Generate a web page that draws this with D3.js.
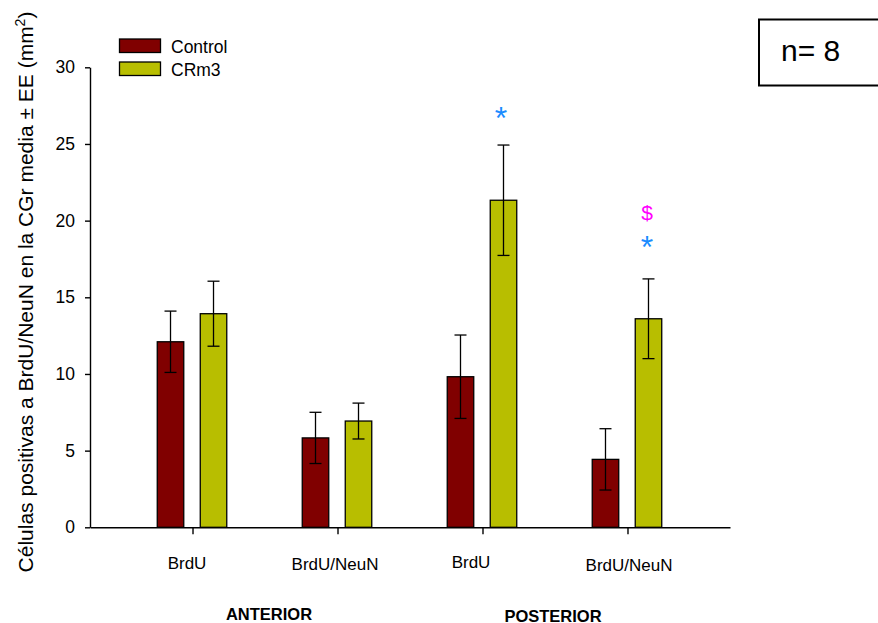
<!DOCTYPE html>
<html>
<head>
<meta charset="utf-8">
<script src="https://cdn.jsdelivr.net/npm/d3@7/dist/d3.min.js"></script>
<style>
  html, body { margin: 0; padding: 0; background: #fff; }
  svg { display: block; font-family: "Liberation Sans", Arial, sans-serif; }
</style>
</head>
<body>
<svg id="chart" width="878" height="623"></svg>
<script>
// ---- data ----
const categories = ["BrdU", "BrdU/NeuN", "BrdU", "BrdU/NeuN"];
const regions = ["ANTERIOR", "POSTERIOR"];
const seriesNames = ["Control", "CRm3"];
const controlMean = [12.1, 5.83, 9.82, 4.43];
const controlSE   = [2.0, 1.67, 2.72, 2.0];
const crm3Mean    = [13.93, 6.93, 21.33, 13.6];
const crm3SE      = [2.12, 1.17, 3.6, 2.6];
const yTicks = [0, 5, 10, 15, 20, 25, 30];
// significance marks: [category index, series index, symbol, kind]
const marks = [[2, 1, "*", "star"], [3, 1, "$", "dollar"], [3, 1, "*", "star"]];
const nLabel = "n= 8";

// ---- layout / style ----
const colors = ["#800000", "#b8be00"];
const barOffset = [-22, 21];
const barW = 26.5;
const labelDx = [-6, -3, -12, 1];
const labelBase = [569, 570, 568, 571.5];
const regionDx = [4, -2];
const regionBase = [619.5, 621.5];
const markPos = { "star": [[501, 129], [647, 258]], "dollar": [[647, 219.5]] };

const svg = d3.select("#chart");
const x = d3.scalePoint().domain(d3.range(categories.length)).range([90, 730]).padding(0.707);
const y = d3.scaleLinear().domain([0, 30]).range([527.3, 67.3]);

// bars
const series = [
  { name: seriesNames[0], mean: controlMean, se: controlSE },
  { name: seriesNames[1], mean: crm3Mean, se: crm3SE }
];
series.forEach((s, si) => {
  const g = svg.append("g");
  const data = s.mean.map((m, i) => ({ i, m, e: s.se[i] }));
  g.selectAll("rect").data(data).join("rect")
    .attr("x", d => x(d.i) + barOffset[si] - barW / 2)
    .attr("y", d => y(d.m))
    .attr("width", barW)
    .attr("height", d => y(0) - y(d.m))
    .attr("fill", colors[si])
    .attr("stroke", "#000")
    .attr("stroke-width", 1.3);
  const eb = g.selectAll("g.err").data(data).join("g").attr("class", "err")
    .attr("stroke", "#000").attr("stroke-width", 1.3);
  eb.append("line")
    .attr("x1", d => x(d.i) + barOffset[si]).attr("x2", d => x(d.i) + barOffset[si])
    .attr("y1", d => y(d.m + d.e)).attr("y2", d => y(d.m - d.e));
  [1, -1].forEach(sign => {
    eb.append("line")
      .attr("x1", d => x(d.i) + barOffset[si] - 6).attr("x2", d => x(d.i) + barOffset[si] + 6)
      .attr("y1", d => y(d.m + sign * d.e)).attr("y2", d => y(d.m + sign * d.e));
  });
});

// axes
const yAxis = svg.append("g").attr("transform", "translate(90,0)")
  .call(d3.axisLeft(y).tickValues(yTicks).tickSize(5).tickPadding(10).tickSizeOuter(0));
yAxis.selectAll("text").attr("font-size", 17.5).attr("fill", "#000")
  .attr("font-family", "'Liberation Sans', Arial, sans-serif");
yAxis.selectAll("line, path").attr("stroke", "#000").attr("stroke-width", 1.4);

const xAxis = svg.append("g").attr("transform", `translate(0,${y(0)})`)
  .call(d3.axisBottom(x).tickSize(7).tickSizeOuter(0).tickFormat(i => categories[i]));
xAxis.selectAll("line, path").attr("stroke", "#000").attr("stroke-width", 1.4);
xAxis.selectAll("text")
  .attr("font-size", 17).attr("fill", "#000")
  .attr("font-family", "'Liberation Sans', Arial, sans-serif")
  .attr("dy", 0)
  .attr("x", (d) => labelDx[d])
  .attr("y", (d) => labelBase[d] - y(0));

// region labels
regions.forEach((r, ri) => {
  const cx = (x(ri * 2) + x(ri * 2 + 1)) / 2 + regionDx[ri];
  svg.append("text").attr("x", cx).attr("y", regionBase[ri])
    .attr("text-anchor", "middle").attr("font-weight", "bold").attr("font-size", 16.5)
    .text(r);
});

// y-axis title
const yt = svg.append("text")
  .attr("transform", "translate(33,292) rotate(-90)")
  .attr("text-anchor", "middle").attr("font-size", 21).attr("fill", "#000");
yt.append("tspan").text("Células positivas a BrdU/NeuN en la CGr media ± EE (mm");
yt.append("tspan").attr("font-size", 14).attr("dy", -8).text("2");
yt.append("tspan").attr("dy", 8).text(")");

// legend
series.forEach((s, si) => {
  const ly = [39, 62][si];
  svg.append("rect").attr("x", 119.5).attr("y", ly).attr("width", 41).attr("height", 13.5)
    .attr("fill", colors[si]).attr("stroke", "#000").attr("stroke-width", 1.3);
  svg.append("text").attr("x", 171).attr("y", ly + 13.5).attr("font-size", 17.5).text(s.name);
});

// significance marks
const used = { star: 0, dollar: 0 };
marks.forEach(([ci, si, sym, kind]) => {
  const p = markPos[kind][used[kind]++];
  svg.append("text").attr("x", p[0]).attr("y", p[1]).attr("text-anchor", "middle")
    .attr("font-size", kind === "star" ? 32 : 21)
    .attr("fill", kind === "star" ? "#1a8cff" : "#ff00ff")
    .text(sym);
});

// n box
svg.append("rect").attr("x", 759).attr("y", 19.5).attr("width", 200).attr("height", 66)
  .attr("fill", "none").attr("stroke", "#000").attr("stroke-width", 2);
svg.append("text").attr("x", 781).attr("y", 61).attr("font-size", 30).text(nLabel);
</script>
</body>
</html>
